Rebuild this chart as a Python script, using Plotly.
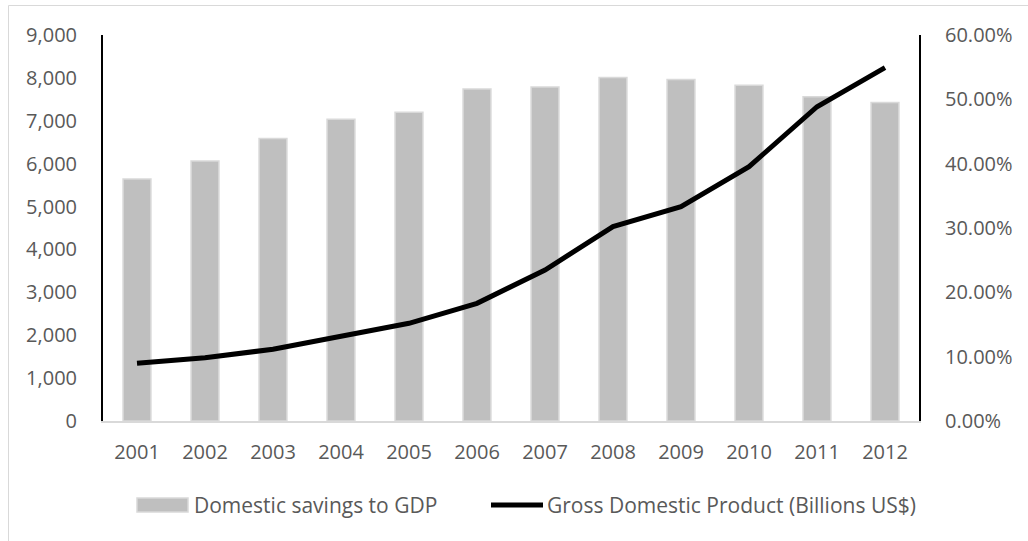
import plotly.graph_objects as go

years = ["2001", "2002", "2003", "2004", "2005", "2006",
         "2007", "2008", "2009", "2010", "2011", "2012"]
savings_pct = [37.6, 40.4, 43.9, 46.9, 48.0, 51.6, 51.9, 53.4, 53.1, 52.2, 50.4, 49.5]
gdp_billions = [1345, 1476, 1672, 1966, 2278, 2744, 3521, 4531, 4997, 5929, 7328, 8238]

bar_name = "Domestic savings to GDP"
line_name = "Gross Domestic Product (Billions US$)"

FONT = "Open Sans"
TXT = "#595959"
FS = 20
LFS = 21

fig = go.Figure()
fig.add_trace(go.Bar(
    x=years, y=savings_pct, name=bar_name, yaxis="y", width=0.41,
    marker=dict(color="#bfbfbf", line=dict(color="#d9d9d9", width=1.5)),
    showlegend=False,
))
fig.add_trace(go.Scatter(
    x=years, y=gdp_billions, name=line_name, yaxis="y2", mode="lines",
    line=dict(color="#000000", width=5),
    showlegend=False,
))

L, R, T, B = 103, 109, 35, 120
W, H = 1028, 541
pw, ph = W - L - R, H - T - B


def px(xp):
    return (xp - L) / pw


def py(yp):
    return (H - B - yp) / ph


shapes = [
    # outer chart border
    dict(type="rect", xref="paper", yref="paper", x0=px(8.5), x1=px(1100), y0=py(600), y1=py(5.5),
         line=dict(color="#d9d9d9", width=1), fillcolor="rgba(0,0,0,0)", layer="below"),
    # legend symbols
    dict(type="rect", xref="paper", yref="paper", x0=px(137), x1=px(188), y0=py(512), y1=py(498),
         line=dict(color="#d9d9d9", width=1.5), fillcolor="#bfbfbf"),
    dict(type="line", xref="paper", yref="paper", x0=px(491), x1=px(543), y0=py(505), y1=py(505),
         line=dict(color="#000000", width=5)),
]
annotations = [
    dict(text=bar_name, xref="paper", yref="paper", x=px(192), y=py(505), xanchor="left", yanchor="middle",
         showarrow=False, font=dict(family=FONT, size=LFS, color=TXT)),
    dict(text=line_name, xref="paper", yref="paper", x=px(545), y=py(505), xanchor="left", yanchor="middle",
         showarrow=False, font=dict(family=FONT, size=LFS, color=TXT)),
]

fig.update_layout(
    width=W, height=H,
    margin=dict(l=L, r=R, t=T, b=B),
    paper_bgcolor="white", plot_bgcolor="white",
    font=dict(family=FONT, size=FS, color=TXT),
    xaxis=dict(type="category", range=[-0.5, 11.5], showgrid=False, showline=True,
               linecolor="#d9d9d9", linewidth=1.5, ticks="", ticklabelstandoff=12,
               tickfont=dict(family=FONT, size=FS, color=TXT)),
    yaxis=dict(side="right", range=[0, 60], dtick=10, tickformat=".2f", ticksuffix="%",
               showgrid=False, zeroline=False, showline=True, linecolor="#000000", linewidth=2,
               ticks="", ticklabelstandoff=20, tickfont=dict(family=FONT, size=FS, color=TXT)),
    yaxis2=dict(side="left", overlaying="y", range=[0, 9000], dtick=1000, tickformat=",d",
                showgrid=False, zeroline=False, showline=True, linecolor="#000000", linewidth=2,
                ticks="", ticklabelstandoff=20, tickfont=dict(family=FONT, size=FS, color=TXT)),
    shapes=shapes,
    annotations=annotations,
    bargap=0.59,
)

fig.write_html("out.html")
